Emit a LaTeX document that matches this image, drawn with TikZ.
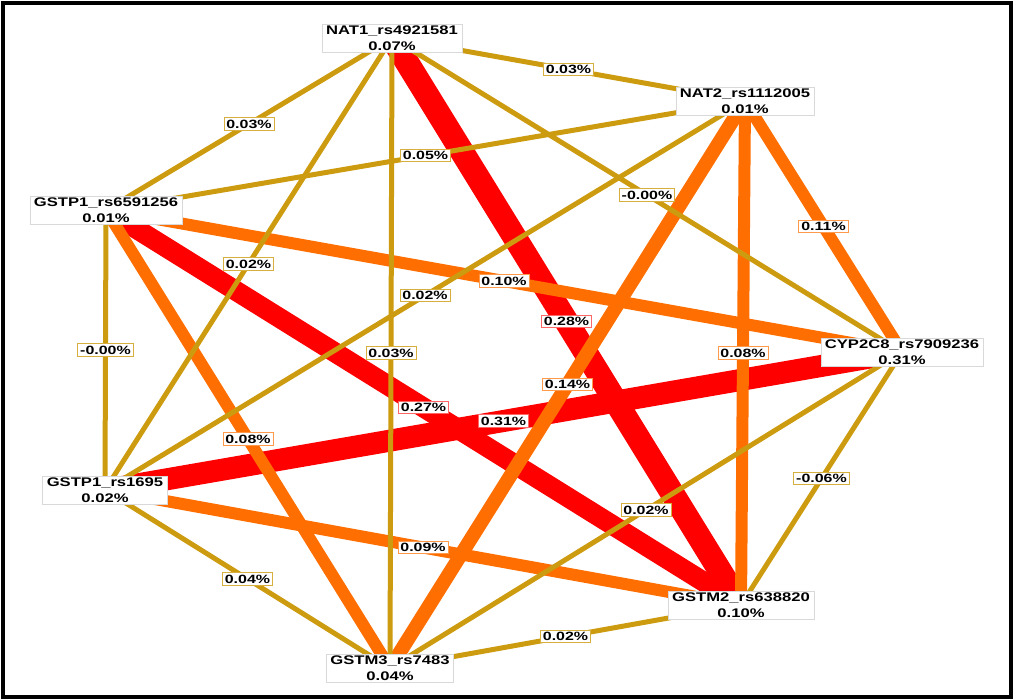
\documentclass[tikz,border=0pt]{standalone}
\usepackage{fontspec}
\setmainfont{Liberation Sans}
\usepackage{graphicx}
\usetikzlibrary{backgrounds}
\definecolor{gold}{RGB}{205,155,15}
\definecolor{orng}{RGB}{255,110,0}
\definecolor{rd}{RGB}{255,0,0}
\newcommand{\wx}[1]{\scalebox{1.33}[1]{#1}}
\tikzset{
  gene/.style={draw=black!15, fill=white, line width=0.6pt, align=center,
    font=\bfseries\fontsize{12.5}{15.5}\selectfont, inner xsep=4pt, inner ysep=2pt},
  lab/.style={fill=white, line width=0.7pt, inner xsep=2.5pt, inner ysep=2pt,
    font=\bfseries\fontsize{12}{13.5}\selectfont},
  lg/.style={lab, draw=gold!80},
  lo/.style={lab, draw=orng!70},
  lr/.style={lab, draw=rd!60},
  eg/.style={gold, line width=5pt},
  eo/.style={orng, line width=12pt},
  er/.style={rd, line width=#1},
}
\begin{document}
\begin{tikzpicture}[x=1pt,y=-1pt]
\useasboundingbox (0,0) rectangle (1015,700);
\draw[black, line width=4pt] (3,3) rectangle (1011,697);

\node[gene] (nat1) at (392,38) {\wx{NAT1\_rs4921581}\\\wx{0.07\%}};
\node[gene] (nat2) at (745,101) {\wx{NAT2\_rs1112005}\\\wx{0.01\%}};
\node[gene] (gpa) at (106,210) {\wx{GSTP1\_rs6591256}\\\wx{0.01\%}};
\node[gene] (cyp) at (902,352) {\wx{CYP2C8\_rs7909236}\\\wx{0.31\%}};
\node[gene] (gpb) at (105,490) {\wx{GSTP1\_rs1695}\\\wx{0.02\%}};
\node[gene] (gm2) at (741,605) {\wx{GSTM2\_rs638820}\\\wx{0.10\%}};
\node[gene] (gm3) at (390,668) {\wx{GSTM3\_rs7483}\\\wx{0.04\%}};

\begin{scope}[on background layer]
% red edges
\draw[er=24pt] (nat1.center) -- (gm2.center);
\draw[er=22pt] (gpb.center) -- (cyp.center);
\draw[er=20pt] (gpa.center) -- (gm2.center);
% orange edges
\draw[eo] (nat2.center) -- (cyp.center);
\draw[eo] (nat2.center) -- (gm2.center);
\draw[eo, line width=14pt] (nat2.center) -- (gm3.center);
\draw[eo] (gpa.center) -- (cyp.center);
\draw[eo] (gpa.center) -- (gm3.center);
\draw[eo] (gpb.center) -- (gm2.center);
% gold edges
\draw[eg] (nat1.center) -- (nat2.center);
\draw[eg] (nat1.center) -- (gpa.center);
\draw[eg] (nat1.center) -- (gpb.center);
\draw[eg] (nat1.center) -- (gm3.center);
\draw[eg] (nat1.center) -- (cyp.center);
\draw[eg] (nat2.center) -- (gpa.center);
\draw[eg] (nat2.center) -- (gpb.center);
\draw[eg] (gpa.center) -- (gpb.center);
\draw[eg] (cyp.center) -- (gm2.center);
\draw[eg] (cyp.center) -- (gm3.center);
\draw[eg] (gpb.center) -- (gm3.center);
\draw[eg] (gm2.center) -- (gm3.center);
\end{scope}

% edge labels
\path (nat1.center) -- node[lr] {\wx{0.28\%}} (gm2.center);
\path (gpb.center) -- node[lr] {\wx{0.31\%}} (cyp.center);
\path (gpa.center) -- node[lr] {\wx{0.27\%}} (gm2.center);
\path (nat2.center) -- node[lo] {\wx{0.11\%}} (cyp.center);
\path (nat2.center) -- node[lo] {\wx{0.08\%}} (gm2.center);
\path (nat2.center) -- node[lo] {\wx{0.14\%}} (gm3.center);
\path (gpa.center) -- node[lo] {\wx{0.10\%}} (cyp.center);
\path (gpa.center) -- node[lo] {\wx{0.08\%}} (gm3.center);
\path (gpb.center) -- node[lo] {\wx{0.09\%}} (gm2.center);
\path (nat1.center) -- node[lg] {\wx{0.03\%}} (nat2.center);
\path (nat1.center) -- node[lg] {\wx{0.03\%}} (gpa.center);
\path (nat1.center) -- node[lg] {\wx{0.02\%}} (gpb.center);
\path (nat1.center) -- node[lg] {\wx{0.03\%}} (gm3.center);
\path (nat1.center) -- node[lg] {\wx{-0.00\%}} (cyp.center);
\path (nat2.center) -- node[lg] {\wx{0.05\%}} (gpa.center);
\path (nat2.center) -- node[lg] {\wx{0.02\%}} (gpb.center);
\path (gpa.center) -- node[lg] {\wx{-0.00\%}} (gpb.center);
\path (cyp.center) -- node[lg] {\wx{-0.06\%}} (gm2.center);
\path (cyp.center) -- node[lg] {\wx{0.02\%}} (gm3.center);
\path (gpb.center) -- node[lg] {\wx{0.04\%}} (gm3.center);
\path (gm2.center) -- node[lg] {\wx{0.02\%}} (gm3.center);
\end{tikzpicture}
\end{document}
